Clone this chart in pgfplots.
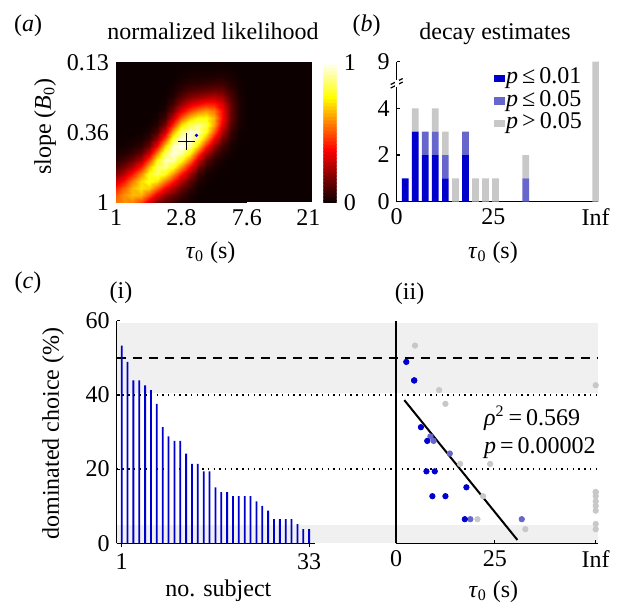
\documentclass[border=0pt]{standalone}
\usepackage{fontspec}
\setmainfont{Liberation Serif}
\usepackage{pgfplots}
\pgfplotsset{compat=1.18}
\definecolor{pDark}{RGB}{0,0,204}
\definecolor{pMid}{RGB}{102,102,204}
\definecolor{pGray}{RGB}{200,200,200}
\definecolor{bandGray}{RGB}{240,240,240}
\definecolor{hotBlack}{RGB}{12,0,0}
\newcommand{\fs}{\fontsize{12}{14}\selectfont}
\pgfplotsset{
  colormap={mhot}{rgb255(0cm)=(12,0,0); rgb255(3cm)=(255,0,0); rgb255(6cm)=(255,255,0); rgb255(8cm)=(255,255,255)},
  every axis/.append style={
    scale only axis, font=\fs, tick label style={font=\fs},
    /pgf/number format/assume math mode=true,
    tick align=inside, major tick length=1.7pt,
    tick style={line width=0.6pt, black},
    clip=false,
  },
  clean/.style={axis lines*=left, axis line style={-, line width=0.6pt}},
  sqlegend/.style={legend image code/.code={\fill[##1] (0pt,-1.8pt) rectangle (5.5pt,1.8pt);}},
}

\begin{document}
\begin{tikzpicture}[font=\fs]
\useasboundingbox (0pt,0pt) rectangle (313pt,303pt);

% ---- (c) shared background: bands and reference lines
\begin{axis}[at={(58.35pt,31.35pt)}, anchor=south west, width=240.65pt, height=111.3pt,
  xmin=0, xmax=1, ymin=0, ymax=60, hide axis]
  \addplot[draw=none, fill=bandGray] coordinates {(0,0) (1,0) (1,4.9) (0,4.9)} -- cycle;
  \addplot[draw=none, fill=bandGray] coordinates {(0,40.6) (1,40.6) (1,59.3) (0,59.3)} -- cycle;
  \addplot[black, line width=1pt, dash pattern=on 4.7pt off 3.3pt] coordinates {(0,50) (1,50)};
  \addplot[black, line width=0.7pt, dash pattern=on 0.7pt off 2.15pt] coordinates {(0,40) (1,40)};
  \addplot[black, line width=0.7pt, dash pattern=on 0.7pt off 2.15pt] coordinates {(0,20) (1,20)};
\end{axis}

% ---- (c)(i) dominated choice per subject
\begin{axis}[at={(58.35pt,31.35pt)}, anchor=south west, width=99.15pt, height=111.3pt,
  clean, xmin=0.15, xmax=34, ymin=0, ymax=60, xtick={1,33}, ytick={0,20,40,60},
  ybar, bar width=0.9pt]
  \addplot[fill=pDark, draw=none] coordinates {
    (1,53.3) (2,48.9) (3,43.9) (4,43.9) (5,42.6) (6,41.3) (7,37.6) (8,31.3)
    (9,28.8) (10,27.6) (11,27.6) (12,24.2) (13,21.4) (14,21.4) (15,19.4) (16,19.4)
    (17,15.1) (18,13.8) (19,13.8) (20,12.7) (21,12.7) (22,12.7) (23,12.7) (24,11.3)
    (25,10.1) (26,8.8) (27,6.5) (28,6.5) (29,6.5) (30,6.5) (31,5.2) (32,3.8) (33,3.8)};
\end{axis}

% ---- (c)(ii) dominated choice against decay
\begin{axis}[at={(198pt,31.35pt)}, anchor=south west, width=100.85pt, height=111.3pt,
  clean, xmin=0, xmax=51, ymin=0, ymax=60, xtick={0,25,50.5}, xticklabels={0,25,Inf},
  ytick=\empty]
  \addplot[only marks, mark=*, mark size=1.35pt, pGray] coordinates {
    (4.8,53.3) (10.9,41.3) (12.5,37.6) (16.2,21.4) (23.8,21.4) (22.0,12.7) (20.6,6.5) (32.7,3.8)
    (50.5,42.6) (50.5,13.8) (50.5,13.8) (50.5,12.7) (50.5,11.3) (50.5,10.1) (50.5,8.8) (50.5,5.2) (50.5,3.8)};
  \addplot[only marks, mark=*, mark size=1.35pt, pMid] coordinates {
    (8.7,28.8) (9.5,27.6) (13.6,24.2) (18.8,6.5) (31.8,6.5)};
  \addplot[only marks, mark=*, mark size=1.35pt, pDark] coordinates {
    (2.6,48.9) (4.6,43.9) (4.6,43.9) (6.3,31.3) (7.9,27.6) (7.7,19.4) (9.8,19.4)
    (9.2,12.7) (12.5,12.7) (17.8,15.1) (17.4,6.5)};
  \addplot[black, line width=1pt] coordinates {(2.1,38.6) (30.7,0.9)};
\end{axis}

% ---- (b) decay estimates (broken y axis: the Inf bar of 9 is drawn at 6)
\begin{axis}[at={(198.35pt,202.15pt)}, anchor=south west, width=100.8pt, height=70pt,
  clean, xmin=0, xmax=52.2, ymin=0, ymax=6,
  xtick={0,25,51.5}, xticklabels={0,25,Inf}, ytick={0,2,4,6}, yticklabels={0,2,4,9},
  ybar stacked, bar width=3.35pt,
  legend style={draw=none, fill=none, at={(axis description cs:0.925,0.965)}, anchor=north east,
    inner sep=0pt, row sep=-0.25pt, font=\fs,
    nodes={inner sep=0.5pt, text height=8pt, text depth=2.5pt}},
  legend cell align=left]
  \addplot[fill=pDark, draw=none, sqlegend] coordinates {
    (2.2,1) (4.8,3) (7.4,2) (10.0,2) (12.6,1) (15.2,0) (17.8,2) (20.4,0) (23.0,0) (25.6,0) (33.4,0) (51.5,0)};
  \addlegendentry{\textit{p}\,≤\,0.01}
  \addplot[fill=pMid, draw=none, sqlegend] coordinates {
    (2.2,0) (4.8,0) (7.4,1) (10.0,1) (12.6,1) (15.2,0) (17.8,1) (20.4,0) (23.0,0) (25.6,0) (33.4,1) (51.5,0)};
  \addlegendentry{\textit{p}\,≤\,0.05}
  \addplot[fill=pGray, draw=none, sqlegend] coordinates {
    (2.2,0) (4.8,1) (7.4,0) (10.0,1) (12.6,1) (15.2,1) (17.8,0) (20.4,1) (23.0,1) (25.6,1) (33.4,1) (51.5,6)};
  \addlegendentry{\textit{p}\,>\,0.05}
  \fill[white] ([xshift=-1pt]axis cs:0,4.93) rectangle ([xshift=1pt]axis cs:0,5.22);
  \draw[line width=0.6pt] ([xshift=-3pt,yshift=-1.5pt]axis cs:0,5.0) -- ([xshift=3pt,yshift=1.5pt]axis cs:0,5.0);
  \draw[line width=0.6pt] ([xshift=-3pt,yshift=-1.5pt]axis cs:0,5.15) -- ([xshift=3pt,yshift=1.5pt]axis cs:0,5.15);
\end{axis}

% ---- (a) colour scale
\begin{axis}[at={(161.65pt,201.85pt)}, anchor=south west, width=6.7pt, height=70pt,
  xmin=0, xmax=1, ymin=0, ymax=1, clip=true, colormap name=mhot,
  point meta min=0, point meta max=1, xtick=\empty, ytick={0,1}, yticklabel pos=right,
  axis line style={draw=none}, major tick length=0pt]
  \addplot[matrix plot*, mesh/cols=2, point meta=explicit] table[meta=c, row sep=\\] {
x y c\\
0.25 0 0\\ 0.75 0 0\\ 0.25 0.025 0.025\\ 0.75 0.025 0.025\\ 0.25 0.05 0.05\\ 0.75 0.05 0.05\\ 0.25 0.075 0.075\\ 0.75 0.075 0.075\\
0.25 0.1 0.1\\ 0.75 0.1 0.1\\ 0.25 0.125 0.125\\ 0.75 0.125 0.125\\ 0.25 0.15 0.15\\ 0.75 0.15 0.15\\ 0.25 0.175 0.175\\ 0.75 0.175 0.175\\
0.25 0.2 0.2\\ 0.75 0.2 0.2\\ 0.25 0.225 0.225\\ 0.75 0.225 0.225\\ 0.25 0.25 0.25\\ 0.75 0.25 0.25\\ 0.25 0.275 0.275\\ 0.75 0.275 0.275\\
0.25 0.3 0.3\\ 0.75 0.3 0.3\\ 0.25 0.325 0.325\\ 0.75 0.325 0.325\\ 0.25 0.35 0.35\\ 0.75 0.35 0.35\\ 0.25 0.375 0.375\\ 0.75 0.375 0.375\\
0.25 0.4 0.4\\ 0.75 0.4 0.4\\ 0.25 0.425 0.425\\ 0.75 0.425 0.425\\ 0.25 0.45 0.45\\ 0.75 0.45 0.45\\ 0.25 0.475 0.475\\ 0.75 0.475 0.475\\
0.25 0.5 0.5\\ 0.75 0.5 0.5\\ 0.25 0.525 0.525\\ 0.75 0.525 0.525\\ 0.25 0.55 0.55\\ 0.75 0.55 0.55\\ 0.25 0.575 0.575\\ 0.75 0.575 0.575\\
0.25 0.6 0.6\\ 0.75 0.6 0.6\\ 0.25 0.625 0.625\\ 0.75 0.625 0.625\\ 0.25 0.65 0.65\\ 0.75 0.65 0.65\\ 0.25 0.675 0.675\\ 0.75 0.675 0.675\\
0.25 0.7 0.7\\ 0.75 0.7 0.7\\ 0.25 0.725 0.725\\ 0.75 0.725 0.725\\ 0.25 0.75 0.75\\ 0.75 0.75 0.75\\ 0.25 0.775 0.775\\ 0.75 0.775 0.775\\
0.25 0.8 0.8\\ 0.75 0.8 0.8\\ 0.25 0.825 0.825\\ 0.75 0.825 0.825\\ 0.25 0.85 0.85\\ 0.75 0.85 0.85\\ 0.25 0.875 0.875\\ 0.75 0.875 0.875\\
0.25 0.9 0.9\\ 0.75 0.9 0.9\\ 0.25 0.925 0.925\\ 0.75 0.925 0.925\\ 0.25 0.95 0.95\\ 0.75 0.95 0.95\\ 0.25 0.975 0.975\\ 0.75 0.975 0.975\\
0.25 1 1\\ 0.75 1 1\\
  };
\end{axis}

% ---- (a) normalized likelihood; x = ln(tau0), y = -ln(B0)
\begin{axis}[at={(58pt,201.85pt)}, anchor=south west, width=98.15pt, height=70pt,
  view={0}{90}, xmin=0, xmax=3, ymin=0, ymax=2, enlargelimits=false,
  xtick={0,1,2,2.94}, xticklabels={1,2.8,7.6,21},
  ytick={0,1,2}, yticklabels={1,0.36,0.13}, ztick=\empty,
  axis line style={draw=none}, major tick length=0pt,
  colormap name=mhot, point meta min=0, point meta max=1]
  \fill[hotBlack] (rel axis cs:0,0,0) rectangle (rel axis cs:1,1,0);
  \addplot3[surf, shader=interp, mesh/cols=17] table[row sep=\\] {
x y z\\
0 0 0.55\\ 0.125 0 0.585\\ 0.25 0 0.57\\ 0.375 0 0.48\\ 0.5 0 0.32\\ 0.625 0 0.18\\ 0.75 0 0.11\\ 0.875 0 0.071\\ 1 0 0.035\\ 1.125 0 0.011\\ 1.25 0 0\\ 1.375 0 0\\ 1.5 0 0\\ 1.625 0 0\\ 1.75 0 0\\ 1.875 0 0\\ 2 0 0\\
0 0.1 0.51\\ 0.125 0.1 0.59\\ 0.25 0.1 0.65\\ 0.375 0.1 0.64\\ 0.5 0.1 0.50\\ 0.625 0.1 0.33\\ 0.75 0.1 0.21\\ 0.875 0.1 0.14\\ 1 0.1 0.074\\ 1.125 0.1 0.027\\ 1.25 0.1 0.004\\ 1.375 0.1 0\\ 1.5 0.1 0\\ 1.625 0.1 0\\ 1.75 0.1 0\\ 1.875 0.1 0\\ 2 0.1 0\\
0 0.2 0.42\\ 0.125 0.2 0.52\\ 0.25 0.2 0.64\\ 0.375 0.2 0.72\\ 0.5 0.2 0.68\\ 0.625 0.2 0.53\\ 0.75 0.2 0.37\\ 0.875 0.2 0.25\\ 1 0.2 0.144\\ 1.125 0.2 0.061\\ 1.25 0.2 0.013\\ 1.375 0.2 0\\ 1.5 0.2 0\\ 1.625 0.2 0\\ 1.75 0.2 0\\ 1.875 0.2 0\\ 2 0.2 0\\
0 0.3 0.30\\ 0.125 0.3 0.40\\ 0.25 0.3 0.55\\ 0.375 0.3 0.70\\ 0.5 0.3 0.79\\ 0.625 0.3 0.72\\ 0.75 0.3 0.56\\ 0.875 0.3 0.41\\ 1 0.3 0.254\\ 1.125 0.3 0.124\\ 1.25 0.3 0.034\\ 1.375 0.3 0.007\\ 1.5 0.3 0\\ 1.625 0.3 0\\ 1.75 0.3 0\\ 1.875 0.3 0\\ 2 0.3 0\\
0 0.4 0.18\\ 0.125 0.4 0.27\\ 0.25 0.4 0.40\\ 0.375 0.4 0.58\\ 0.5 0.4 0.78\\ 0.625 0.4 0.85\\ 0.75 0.4 0.76\\ 0.875 0.4 0.59\\ 1 0.4 0.406\\ 1.125 0.4 0.227\\ 1.25 0.4 0.080\\ 1.375 0.4 0.022\\ 1.5 0.4 0.006\\ 1.625 0.4 0\\ 1.75 0.4 0\\ 1.875 0.4 0\\ 2 0.4 0\\
0 0.5 0.099\\ 0.125 0.5 0.16\\ 0.25 0.5 0.25\\ 0.375 0.5 0.41\\ 0.5 0.5 0.65\\ 0.625 0.5 0.86\\ 0.75 0.5 0.89\\ 0.875 0.5 0.78\\ 1 0.5 0.588\\ 1.125 0.5 0.375\\ 1.25 0.5 0.166\\ 1.375 0.5 0.057\\ 1.5 0.5 0.018\\ 1.625 0.5 0.005\\ 1.75 0.5 0\\ 1.875 0.5 0\\ 2 0.5 0\\
0 0.6 0.047\\ 0.125 0.6 0.081\\ 0.25 0.6 0.14\\ 0.375 0.6 0.24\\ 0.5 0.6 0.47\\ 0.625 0.6 0.75\\ 0.75 0.6 0.93\\ 0.875 0.6 0.92\\ 1 0.6 0.773\\ 1.125 0.6 0.556\\ 1.25 0.6 0.302\\ 1.375 0.6 0.129\\ 1.5 0.6 0.047\\ 1.625 0.6 0.015\\ 1.75 0.6 0\\ 1.875 0.6 0\\ 2 0.6 0\\
0 0.7 0.019\\ 0.125 0.7 0.036\\ 0.25 0.7 0.065\\ 0.375 0.7 0.125\\ 0.5 0.7 0.28\\ 0.625 0.7 0.57\\ 0.75 0.7 0.85\\ 0.875 0.7 0.98\\ 1 0.7 0.921\\ 1.125 0.7 0.745\\ 1.25 0.7 0.484\\ 1.375 0.7 0.251\\ 1.5 0.7 0.109\\ 1.625 0.7 0.039\\ 1.75 0.7 0.008\\ 1.875 0.7 0\\ 2 0.7 0\\
0 0.8 0.007\\ 0.125 0.8 0.014\\ 0.25 0.8 0.026\\ 0.375 0.8 0.054\\ 0.5 0.8 0.147\\ 0.625 0.8 0.37\\ 0.75 0.8 0.68\\ 0.875 0.8 0.94\\ 1 0.8 0.996\\ 1.125 0.8 0.897\\ 1.25 0.8 0.683\\ 1.375 0.8 0.421\\ 1.5 0.8 0.214\\ 1.625 0.8 0.085\\ 1.75 0.8 0.019\\ 1.875 0.8 0\\ 2 0.8 0\\
0 0.9 0\\ 0.125 0.9 0.005\\ 0.25 0.9 0.009\\ 0.375 0.9 0.020\\ 0.5 0.9 0.065\\ 0.625 0.9 0.21\\ 0.75 0.9 0.48\\ 0.875 0.9 0.81\\ 1 0.9 0.976\\ 1.125 0.9 0.975\\ 1.25 0.9 0.848\\ 1.375 0.9 0.610\\ 1.5 0.9 0.357\\ 1.625 0.9 0.159\\ 1.75 0.9 0.039\\ 1.875 0.9 0.006\\ 2 0.9 0\\
0 1.0 0\\ 0.125 1.0 0\\ 0.25 1.0 0.003\\ 0.375 1.0 0.006\\ 0.5 1.0 0.025\\ 0.625 1.0 0.10\\ 0.75 1.0 0.30\\ 0.875 1.0 0.63\\ 1 1.0 0.868\\ 1.125 1.0 0.956\\ 1.25 1.0 0.927\\ 1.375 1.0 0.762\\ 1.5 1.0 0.508\\ 1.625 1.0 0.252\\ 1.75 1.0 0.068\\ 1.875 1.0 0.011\\ 2 1.0 0\\
0 1.1 0\\ 0.125 1.1 0\\ 0.25 1.1 0\\ 0.375 1.1 0\\ 0.5 1.1 0.008\\ 0.625 1.1 0.042\\ 0.75 1.1 0.17\\ 0.875 1.1 0.44\\ 1 1.1 0.701\\ 1.125 1.1 0.843\\ 1.25 1.1 0.893\\ 1.375 1.1 0.82\\ 1.5 1.1 0.616\\ 1.625 1.1 0.342\\ 1.75 1.1 0.102\\ 1.875 1.1 0.018\\ 2 1.1 0\\
0 1.2 0\\ 0.125 1.2 0\\ 0.25 1.2 0\\ 0.375 1.2 0\\ 0.5 1.2 0\\ 0.625 1.2 0.015\\ 0.75 1.2 0.080\\ 0.875 1.2 0.28\\ 1 1.2 0.513\\ 1.125 1.2 0.671\\ 1.25 1.2 0.756\\ 1.375 1.2 0.762\\ 1.5 1.2 0.636\\ 1.625 1.2 0.395\\ 1.75 1.2 0.129\\ 1.875 1.2 0.025\\ 2 1.2 0\\
0 1.3 0\\ 0.125 1.3 0\\ 0.25 1.3 0\\ 0.375 1.3 0\\ 0.5 1.3 0\\ 0.625 1.3 0.005\\ 0.75 1.3 0.034\\ 0.875 1.3 0.16\\ 1 1.3 0.340\\ 1.125 1.3 0.481\\ 1.25 1.3 0.564\\ 1.375 1.3 0.610\\ 1.5 1.3 0.559\\ 1.625 1.3 0.388\\ 1.75 1.3 0.14\\ 1.875 1.3 0.029\\ 2 1.3 0\\
0 1.4 0\\ 0.125 1.4 0\\ 0.25 1.4 0\\ 0.375 1.4 0\\ 0.5 1.4 0\\ 0.625 1.4 0\\ 0.75 1.4 0.013\\ 0.875 1.4 0.082\\ 1 1.4 0.205\\ 1.125 1.4 0.311\\ 1.25 1.4 0.370\\ 1.375 1.4 0.421\\ 1.5 1.4 0.419\\ 1.625 1.4 0.326\\ 1.75 1.4 0.129\\ 1.875 1.4 0.029\\ 2 1.4 0\\
0 1.5 0\\ 0.125 1.5 0\\ 0.25 1.5 0\\ 0.375 1.5 0\\ 0.5 1.5 0\\ 0.625 1.5 0\\ 0.75 1.5 0.004\\ 0.875 1.5 0.038\\ 1 1.5 0.112\\ 1.125 1.5 0.181\\ 1.25 1.5 0.214\\ 1.375 1.5 0.251\\ 1.5 1.5 0.268\\ 1.625 1.5 0.233\\ 1.75 1.5 0.102\\ 1.875 1.5 0.025\\ 2 1.5 0\\
0 1.6 0\\ 0.125 1.6 0\\ 0.25 1.6 0\\ 0.375 1.6 0\\ 0.5 1.6 0\\ 0.625 1.6 0\\ 0.75 1.6 0\\ 0.875 1.6 0.016\\ 1 1.6 0.055\\ 1.125 1.6 0.095\\ 1.25 1.6 0.109\\ 1.375 1.6 0.129\\ 1.5 1.6 0.146\\ 1.625 1.6 0.142\\ 1.75 1.6 0.068\\ 1.875 1.6 0.018\\ 2 1.6 0\\
0 1.7 0\\ 0.125 1.7 0\\ 0.25 1.7 0\\ 0.375 1.7 0\\ 0.5 1.7 0\\ 0.625 1.7 0\\ 0.75 1.7 0\\ 0.875 1.7 0.006\\ 1 1.7 0.025\\ 1.125 1.7 0.045\\ 1.25 1.7 0.049\\ 1.375 1.7 0.057\\ 1.5 1.7 0.068\\ 1.625 1.7 0.074\\ 1.75 1.7 0.039\\ 1.875 1.7 0.011\\ 2 1.7 0\\
0 1.8 0\\ 0.125 1.8 0\\ 0.25 1.8 0\\ 0.375 1.8 0\\ 0.5 1.8 0\\ 0.625 1.8 0\\ 0.75 1.8 0\\ 0.875 1.8 0\\ 1 1.8 0.010\\ 1.125 1.8 0.019\\ 1.25 1.8 0.019\\ 1.375 1.8 0.022\\ 1.5 1.8 0.027\\ 1.625 1.8 0.033\\ 1.75 1.8 0.019\\ 1.875 1.8 0.006\\ 2 1.8 0\\
0 1.9 0\\ 0.125 1.9 0\\ 0.25 1.9 0\\ 0.375 1.9 0\\ 0.5 1.9 0\\ 0.625 1.9 0\\ 0.75 1.9 0\\ 0.875 1.9 0\\ 1 1.9 0.004\\ 1.125 1.9 0.007\\ 1.25 1.9 0.007\\ 1.375 1.9 0.007\\ 1.5 1.9 0.009\\ 1.625 1.9 0.012\\ 1.75 1.9 0.008\\ 1.875 1.9 0\\ 2 1.9 0\\
0 2.0 0\\ 0.125 2.0 0\\ 0.25 2.0 0\\ 0.375 2.0 0\\ 0.5 2.0 0\\ 0.625 2.0 0\\ 0.75 2.0 0\\ 0.875 2.0 0\\ 1 2.0 0\\ 1.125 2.0 0.003\\ 1.25 2.0 0\\ 1.375 2.0 0\\ 1.5 2.0 0.003\\ 1.625 2.0 0.004\\ 1.75 2.0 0\\ 1.875 2.0 0\\ 2 2.0 0\\
  };
  \addplot3[only marks, mark=+, mark size=4.2pt, line width=0.8pt, black] coordinates {(1.08,0.866,1)};
  \addplot3[only marks, mark=*, mark size=0.6pt, pDark] coordinates {(1.23,0.957,1)};
\end{axis}

% ---- panel letters, titles and axis labels
\node[anchor=base] at (14pt,287.2pt) {(\textit{a})};
\node[anchor=base] at (183.3pt,287.2pt) {(\textit{b})};
\node[anchor=base] at (14pt,158.8pt) {(\textit{c})};
\node[anchor=base] at (60.5pt,153.6pt) {(i)};
\node[anchor=base] at (204.8pt,153.4pt) {(ii)};
\node[anchor=base] at (106.5pt,283.3pt) {normalized likelihood};
\node[anchor=base] at (247.5pt,283.3pt) {decay estimates};
\node[anchor=base] at (105.3pt,174pt) {\textit{τ}\textsubscript{0} (s)};
\node[anchor=base] at (246.5pt,174pt) {\textit{τ}\textsubscript{0} (s)};
\node[rotate=90] at (22.5pt,239.6pt) {slope (\textit{B}\textsubscript{0})};
\node[anchor=base] at (109.2pt,4.65pt) {no. subject};
\node[anchor=base] at (246.7pt,4.5pt) {\textit{τ}\textsubscript{0} (s)};
\node[rotate=90] at (26.6pt,86.3pt) {dominated choice (\%)};
\node[anchor=base west] at (238.5pt,90.15pt) {\textit{ρ}\textsuperscript{2}\,=\,0.569};
\node[anchor=base west] at (238.5pt,76.35pt) {\textit{p}\,=\,0.00002};
\end{tikzpicture}
\end{document}
